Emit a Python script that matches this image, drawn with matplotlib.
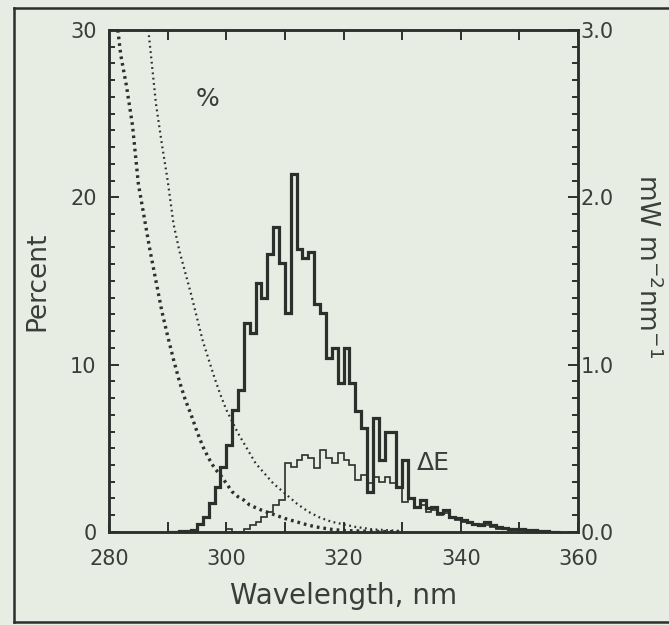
import matplotlib.pyplot as plt
from matplotlib.lines import Line2D
from matplotlib.ticker import MultipleLocator

# spectral irradiance, 1 nm bins (left edges), mW m-2 nm-1
wl_e = list(range(290, 357))
e_vals = [0.0, 0.0, 0.005, 0.008, 0.012, 0.05, 0.09, 0.17, 0.27, 0.39,
          0.52, 0.73, 0.85, 1.25, 1.19, 1.49, 1.40, 1.66, 1.82, 1.61,
          1.31, 2.14, 1.69, 1.64, 1.67, 1.36, 1.31, 1.04, 1.10, 0.89,
          1.10, 0.89, 0.72, 0.62, 0.24, 0.68, 0.43, 0.60, 0.60, 0.27,
          0.43, 0.20, 0.15, 0.19, 0.14, 0.15, 0.11, 0.13, 0.09, 0.08,
          0.07, 0.06, 0.05, 0.04, 0.06, 0.04, 0.03, 0.025, 0.02, 0.02,
          0.015, 0.01, 0.01, 0.005, 0.005, 0.0, 0.0]

# change in irradiance (delta E), 1 nm bins
wl_de = list(range(300, 350))
de_vals = [0.02, 0.0, 0.0, 0.02, 0.04, 0.06, 0.09, 0.12, 0.16, 0.19,
           0.41, 0.39, 0.43, 0.46, 0.44, 0.38, 0.49, 0.44, 0.41, 0.47,
           0.43, 0.40, 0.31, 0.34, 0.29, 0.33, 0.30, 0.33, 0.29, 0.26,
           0.18, 0.20, 0.15, 0.16, 0.12, 0.13, 0.10, 0.11, 0.08, 0.07,
           0.06, 0.06, 0.04, 0.05, 0.04, 0.03, 0.02, 0.02, 0.01, 0.01]

# percent curves
pct1_wl = [281.5, 282, 283, 284, 285, 286, 287, 288, 289, 290, 291, 292,
           293, 294, 295, 296, 297, 298, 299, 300, 301, 302, 303, 304,
           306, 308, 310, 312, 314, 316, 318, 320, 325, 330]
pct1 = [30, 28.5, 26.6, 24.3, 20.8, 18.8, 16.8, 15.0, 13.2, 11.7, 10.3, 9.0,
        7.9, 7.0, 6.0, 5.1, 4.4, 3.8, 3.4, 2.9, 2.4, 2.1, 1.9, 1.6,
        1.3, 1.05, 0.8, 0.6, 0.4, 0.25, 0.15, 0.08, 0.03, 0.0]

pct2_wl = [286.7, 287, 288, 289, 290, 291, 292, 293, 294, 295, 296, 297,
           298, 299, 300, 301, 302, 303, 304, 305, 306, 308, 310, 312,
           314, 316, 318, 320, 322, 325, 330]
pct2 = [30, 29.0, 25.6, 23.2, 21.0, 18.4, 16.8, 15.5, 14.2, 12.8, 11.4, 10.3,
        9.2, 8.2, 7.3, 6.6, 5.9, 5.3, 4.7, 4.1, 3.7, 2.9, 2.3, 1.7,
        1.2, 0.85, 0.6, 0.45, 0.3, 0.15, 0.05]

bg = '#e8ede3'
ink = '#2c2f2b'
txt = '#3a3d39'

plt.rcParams['font.family'] = ['DejaVu Sans']

fig = plt.figure(figsize=(6.69, 6.25), dpi=100, facecolor=bg)
ax = fig.add_axes([0.163, 0.149, 0.701, 0.803], facecolor=bg)
ax2 = ax.twinx()

ax.plot(pct1_wl, pct1, color=ink, lw=2.4, linestyle=(0, (0.8, 1.2)))
ax.plot(pct2_wl, pct2, color=ink, lw=1.6, linestyle=(0, (0.8, 1.6)))

ax2.stairs(e_vals, wl_e + [wl_e[-1] + 1], color=ink, lw=2.3, baseline=None)
ax2.stairs(de_vals, wl_de + [wl_de[-1] + 1], color=ink, lw=1.2, baseline=None)

ax.set_xlim(280, 360)
ax.set_ylim(0, 30)
ax2.set_ylim(0, 3.0)

ax.xaxis.set_major_locator(MultipleLocator(20))
ax.xaxis.set_minor_locator(MultipleLocator(10))
ax.yaxis.set_major_locator(MultipleLocator(10))
ax.yaxis.set_minor_locator(MultipleLocator(1))
ax2.yaxis.set_major_locator(MultipleLocator(1.0))
ax2.yaxis.set_minor_locator(MultipleLocator(0.1))
ax2.yaxis.set_major_formatter(plt.FormatStrFormatter('%.1f'))

ax.tick_params(which='both', direction='in', top=True, right=False,
               color=ink, width=1.4, labelsize=15, labelcolor=txt)
ax.tick_params(axis='y', pad=9)
ax.tick_params(axis='x', pad=12)
ax.tick_params(which='major', length=7)
ax.tick_params(which='minor', length=4.5)
ax.tick_params(axis='x', which='minor', length=7)
ax2.tick_params(which='both', direction='in', color=ink, width=1.4,
                labelsize=15, labelcolor=txt, pad=2)
ax2.tick_params(which='major', length=7)
ax2.tick_params(which='minor', length=4.5)

for a in (ax, ax2):
    for s in a.spines.values():
        s.set_color(ink)
        s.set_linewidth(1.8)

ax.set_xlabel('Wavelength, nm', fontsize=20, color=txt, labelpad=10)
ax.set_ylabel('Percent', fontsize=19, color=txt, labelpad=14)
ax2.set_ylabel('mW m$^{-2}$nm$^{-1}$', fontsize=19, color=txt,
               rotation=270, labelpad=34)
ax2.yaxis.set_label_coords(1.178, 0.53)

ax.text(296.8, 25.9, '%', fontsize=18, color=txt, ha='center', va='center')
ax.text(335.3, 4.1, '\u0394E', fontsize=18, color=txt, ha='center', va='center')

# outer frame of the scanned figure
fig.add_artist(Line2D([0.021, 1.0], [0.987, 0.987], color=ink, lw=1.8))
fig.add_artist(Line2D([0.021, 0.021], [0.005, 0.987], color=ink, lw=1.8))
fig.add_artist(Line2D([0.021, 1.0], [0.005, 0.005], color=ink, lw=1.8))

fig.savefig('out.png', dpi=100, facecolor=bg)
